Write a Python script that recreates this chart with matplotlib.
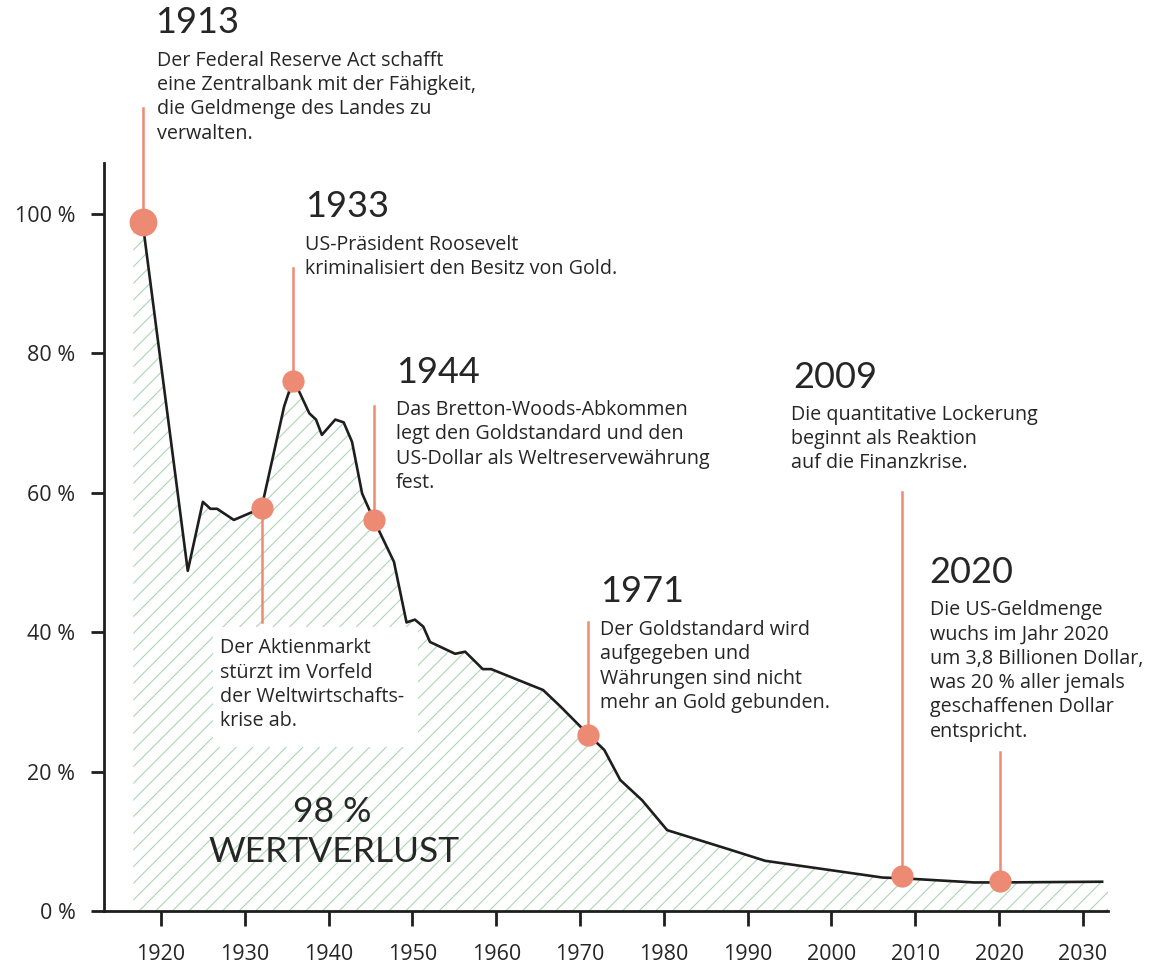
import matplotlib
matplotlib.use("Agg")
import matplotlib.pyplot as plt
from matplotlib.patches import Rectangle

plt.rcParams['font.family'] = ['Open Sans', 'DejaVu Sans']
plt.rcParams['hatch.linewidth'] = 0.8

# kaufkraft des dollars (in % von 1913)
years = [1917.8, 1923.2, 1925.0, 1925.9, 1926.7, 1928.7, 1932.0, 1934.7, 1935.7, 1936.5,
         1937.7, 1938.5, 1939.2, 1940.8, 1941.8, 1942.8, 1944.0, 1945.4, 1947.8, 1949.3,
         1950.3, 1951.3, 1952.1, 1955.1, 1956.3, 1958.4, 1959.4, 1965.6, 1967.7, 1971.0,
         1972.9, 1974.8, 1977.4, 1980.4, 1987.9, 1992.1, 2006.1, 2008.4, 2017.0, 2020.1,
         2032.3]
values = [98.9, 48.8, 58.7, 57.7, 57.7, 56.1, 57.8, 72.4, 76.0, 74.5,
          71.4, 70.5, 68.3, 70.5, 70.1, 67.3, 59.9, 56.1, 50.1, 41.4,
          41.8, 40.8, 38.6, 36.9, 37.2, 34.7, 34.7, 31.7, 29.3, 25.3,
          23.1, 18.8, 15.9, 11.6, 8.8, 7.2, 4.8, 4.7, 4.1, 4.1,
          4.2]

# markierte ereignisse
event_years = [1917.8, 1932.0, 1935.7, 1945.4, 1971.0, 2008.4, 2020.1]
event_values = [98.9, 57.8, 76.0, 56.1, 25.3, 5.0, 4.3]
stem_ends = [115.2, 41.5, 92.3, 72.5, 41.5, 60.1, 22.8]

xticks = [1920, 1930, 1940, 1950, 1960, 1970, 1980, 1990, 2000, 2010, 2020, 2030]
yticks = [0, 20, 40, 60, 80, 100]

titles = ['1913', '1933', '1944', '1971', '2009', '2020']
texts = [
    ['Der Federal Reserve Act schafft', 'eine Zentralbank mit der Fähigkeit,',
     'die Geldmenge des Landes zu', 'verwalten.'],
    ['US-Präsident Roosevelt', 'kriminalisiert den Besitz von Gold.'],
    ['Das Bretton-Woods-Abkommen', 'legt den Goldstandard und den',
     'US-Dollar als Weltreservewährung', 'fest.'],
    ['Der Goldstandard wird', 'aufgegeben und', 'Währungen sind nicht',
     'mehr an Gold gebunden.'],
    ['Die quantitative Lockerung', 'beginnt als Reaktion', 'auf die Finanzkrise.'],
    ['Die US-Geldmenge', 'wuchs im Jahr 2020', 'um 3,8 Billionen Dollar,',
     'was 20 % aller jemals', 'geschaffenen Dollar', 'entspricht.'],
]
crash_text = ['Der Aktienmarkt', 'stürzt im Vorfeld', 'der Weltwirtschafts-', 'krise ab.']

# positionen der notizen (jahr, prozent)
title_pos = [(1919.3, 127.5), (1937.2, 101.0), (1948.0, 77.2),
             (1972.4, 45.8), (1995.4, 76.5), (2011.7, 48.6)]
text_pos = [(1919.5, 122.0), (1937.2, 95.6), (1948.0, 71.9),
            (1972.4, 40.3), (1995.2, 71.2), (2011.8, 43.2)]

salmon = '#EC8A73'
ink = '#1e1e1e'
txt = '#262626'
green = '#ACD6B4'

fig = plt.figure(figsize=(11.59, 9.67), dpi=100)
ax = fig.add_axes([0.0897, 0.0579, 0.8663, 0.7735])
ax.set_xlim(1913.2, 2033.0)
ax.set_ylim(0, 107.3)

# schraffierte flaeche
fx = [1916.7] + years + [2033.0]
fy = [values[0]] + values + [values[-1]]
ax.fill_between(fx, 0, fy, facecolor='none', edgecolor=green, hatch='//', linewidth=0, zorder=1)

ax.add_patch(Rectangle((1926.2, 23.5), 24.5, 17.2, facecolor='white', edgecolor='none', zorder=2))

ax.plot(years, values, color=ink, lw=1.9, zorder=3, solid_joinstyle='round')

for i, (ex, ev) in enumerate(zip(event_years, event_values)):
    ax.plot([ex, ex], [ev, stem_ends[i]], color=salmon, lw=1.8, zorder=2, clip_on=False)
    ms = 20 if i == 0 else 16
    ax.plot(ex, ev, 'o', color=salmon, ms=ms, mec='none', zorder=4, clip_on=False)

step = 3.5
for t, (tx, ty), lines, (bx, by) in zip(titles, title_pos, texts, text_pos):
    ax.text(tx, ty, t, fontsize=26, color=txt, ha='left', va='center', family=['Lato', 'DejaVu Sans'])
    for k, line in enumerate(lines):
        ax.text(bx, by - k * step, line, fontsize=14.2, color=txt, ha='left', va='center')

for k, line in enumerate(crash_text):
    ax.text(1927.0, 37.7 - k * step, line, fontsize=14.2, color=txt, ha='left', va='center', zorder=5)

ax.text(1940.4, 14.2, '98 %', fontsize=25.5, color=txt, ha='center', va='center', zorder=5,
        family=['Lato', 'DejaVu Sans'])
ax.text(1940.6, 8.5, 'WERTVERLUST', fontsize=25.5, color=txt, ha='center', va='center', zorder=5,
        family=['Lato', 'DejaVu Sans'])

for s in ['top', 'right']:
    ax.spines[s].set_visible(False)
for s in ['left', 'bottom']:
    ax.spines[s].set_linewidth(2)
    ax.spines[s].set_color(ink)

ax.set_xticks(xticks)
ax.set_xticklabels([str(x) for x in xticks])
ax.set_yticks(yticks)
ax.set_yticklabels([f'{y} %' for y in yticks])
ax.tick_params(axis='x', length=11, width=2, color=ink, pad=13, labelsize=15.5, labelcolor=txt)
ax.tick_params(axis='y', length=9.5, width=2, color=ink, pad=11, labelsize=15.5, labelcolor=txt)

fig.savefig('out.png', dpi=100)
